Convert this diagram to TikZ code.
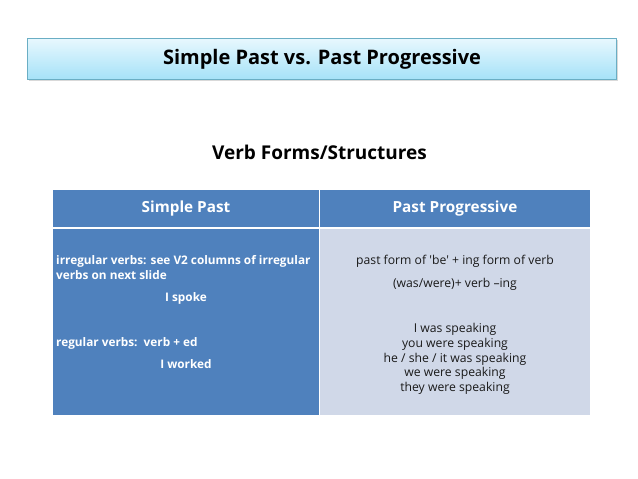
\documentclass[tikz,border=0pt]{standalone}
\usepackage{fontspec}
\setmainfont{Open Sans}
\newfontfamily\plainsans{Open Sans}
\usepackage{tikz}
\definecolor{hdblue}{HTML}{4F81BD}
\definecolor{rowblue}{HTML}{4F81BD}
\definecolor{rowgray}{HTML}{D0D8E8}
\definecolor{titletop}{HTML}{E8F8FE}
\definecolor{titlebot}{HTML}{A6E2F8}
\definecolor{titleline}{HTML}{6AAEC4}
\definecolor{ink}{HTML}{1A1A1A}

\tikzset{
  cell/.style={rectangle,inner sep=0pt,draw=none},
  hdtext/.style={text=white,font=\bfseries\fontsize{15.3}{18}\selectfont},
  lefttext/.style={anchor=base,inner sep=0pt,text=white,font=\bfseries\fontsize{11.8}{13}\selectfont},
  righttext/.style={anchor=base,inner sep=0pt,text=ink,font=\plainsans\fontsize{12.2}{13}\selectfont},
}

\begin{document}
\begin{tikzpicture}[x=1pt,y=-1pt]
   \useasboundingbox (0,0) rectangle (638,479);

   % title box
   \fill[gray!30] (28.5,39.5) rectangle (617.5,80.5);
   \node[cell,top color=titletop,bottom color=titlebot,draw=titleline,line width=0.8pt,
         minimum width=589,minimum height=41] (title) at (321.5,58.5) {};
   \node[anchor=base,inner sep=0pt,font=\bfseries\fontsize{20}{22}\selectfont] (titletxt)
         at (322,64) {Simple Past vs. Past Progressive};

   \node[anchor=base,inner sep=0pt,font=\bfseries\fontsize{19}{20}\selectfont] (sub)
         at (319.5,159) {Verb Forms/Structures};

   % table cells
   \node[cell,fill=hdblue,minimum width=266,minimum height=37] (hdl) at (186,208.5) {};
   \node[cell,fill=hdblue,minimum width=270,minimum height=37] (hdr) at (455,208.5) {};
   \node[cell,fill=rowblue,minimum width=266,minimum height=186] (bdl) at (186,322) {};
   \node[cell,fill=rowgray,minimum width=270,minimum height=186] (bdr) at (455,322) {};
   \node[hdtext] (hdltxt) at (hdl) {Simple Past};
   \node[hdtext] (hdrtxt) at (hdr) {Past Progressive};

   % left column
   \node[lefttext,anchor=base west] (irr1) at (56,264) {irregular verbs: see V2 columns of irregular};
   \node[lefttext,anchor=base west] (irr2) at (56,279) {verbs on next slide};
   \node[lefttext] (spoke) at (186,301) {I spoke};
   \node[lefttext,anchor=base west] (reg) at (56,346) {regular verbs:\ \ verb + ed};
   \node[lefttext] (worked) at (186,368) {I worked};

   % right column
   \node[righttext] (form1) at (455,264) {past form of 'be' + ing form of verb};
   \node[righttext] (form2) at (455,287) {(was/were)+ verb –ing};
   \node[righttext] (ex1) at (455,332) {I was speaking};
   \node[righttext] (ex2) at (455,347) {you were speaking};
   \node[righttext] (ex3) at (455,362) {he / she / it was speaking};
   \node[righttext] (ex4) at (455,376) {we were speaking};
   \node[righttext] (ex5) at (455,391) {they were speaking};
\end{tikzpicture}
\end{document}
